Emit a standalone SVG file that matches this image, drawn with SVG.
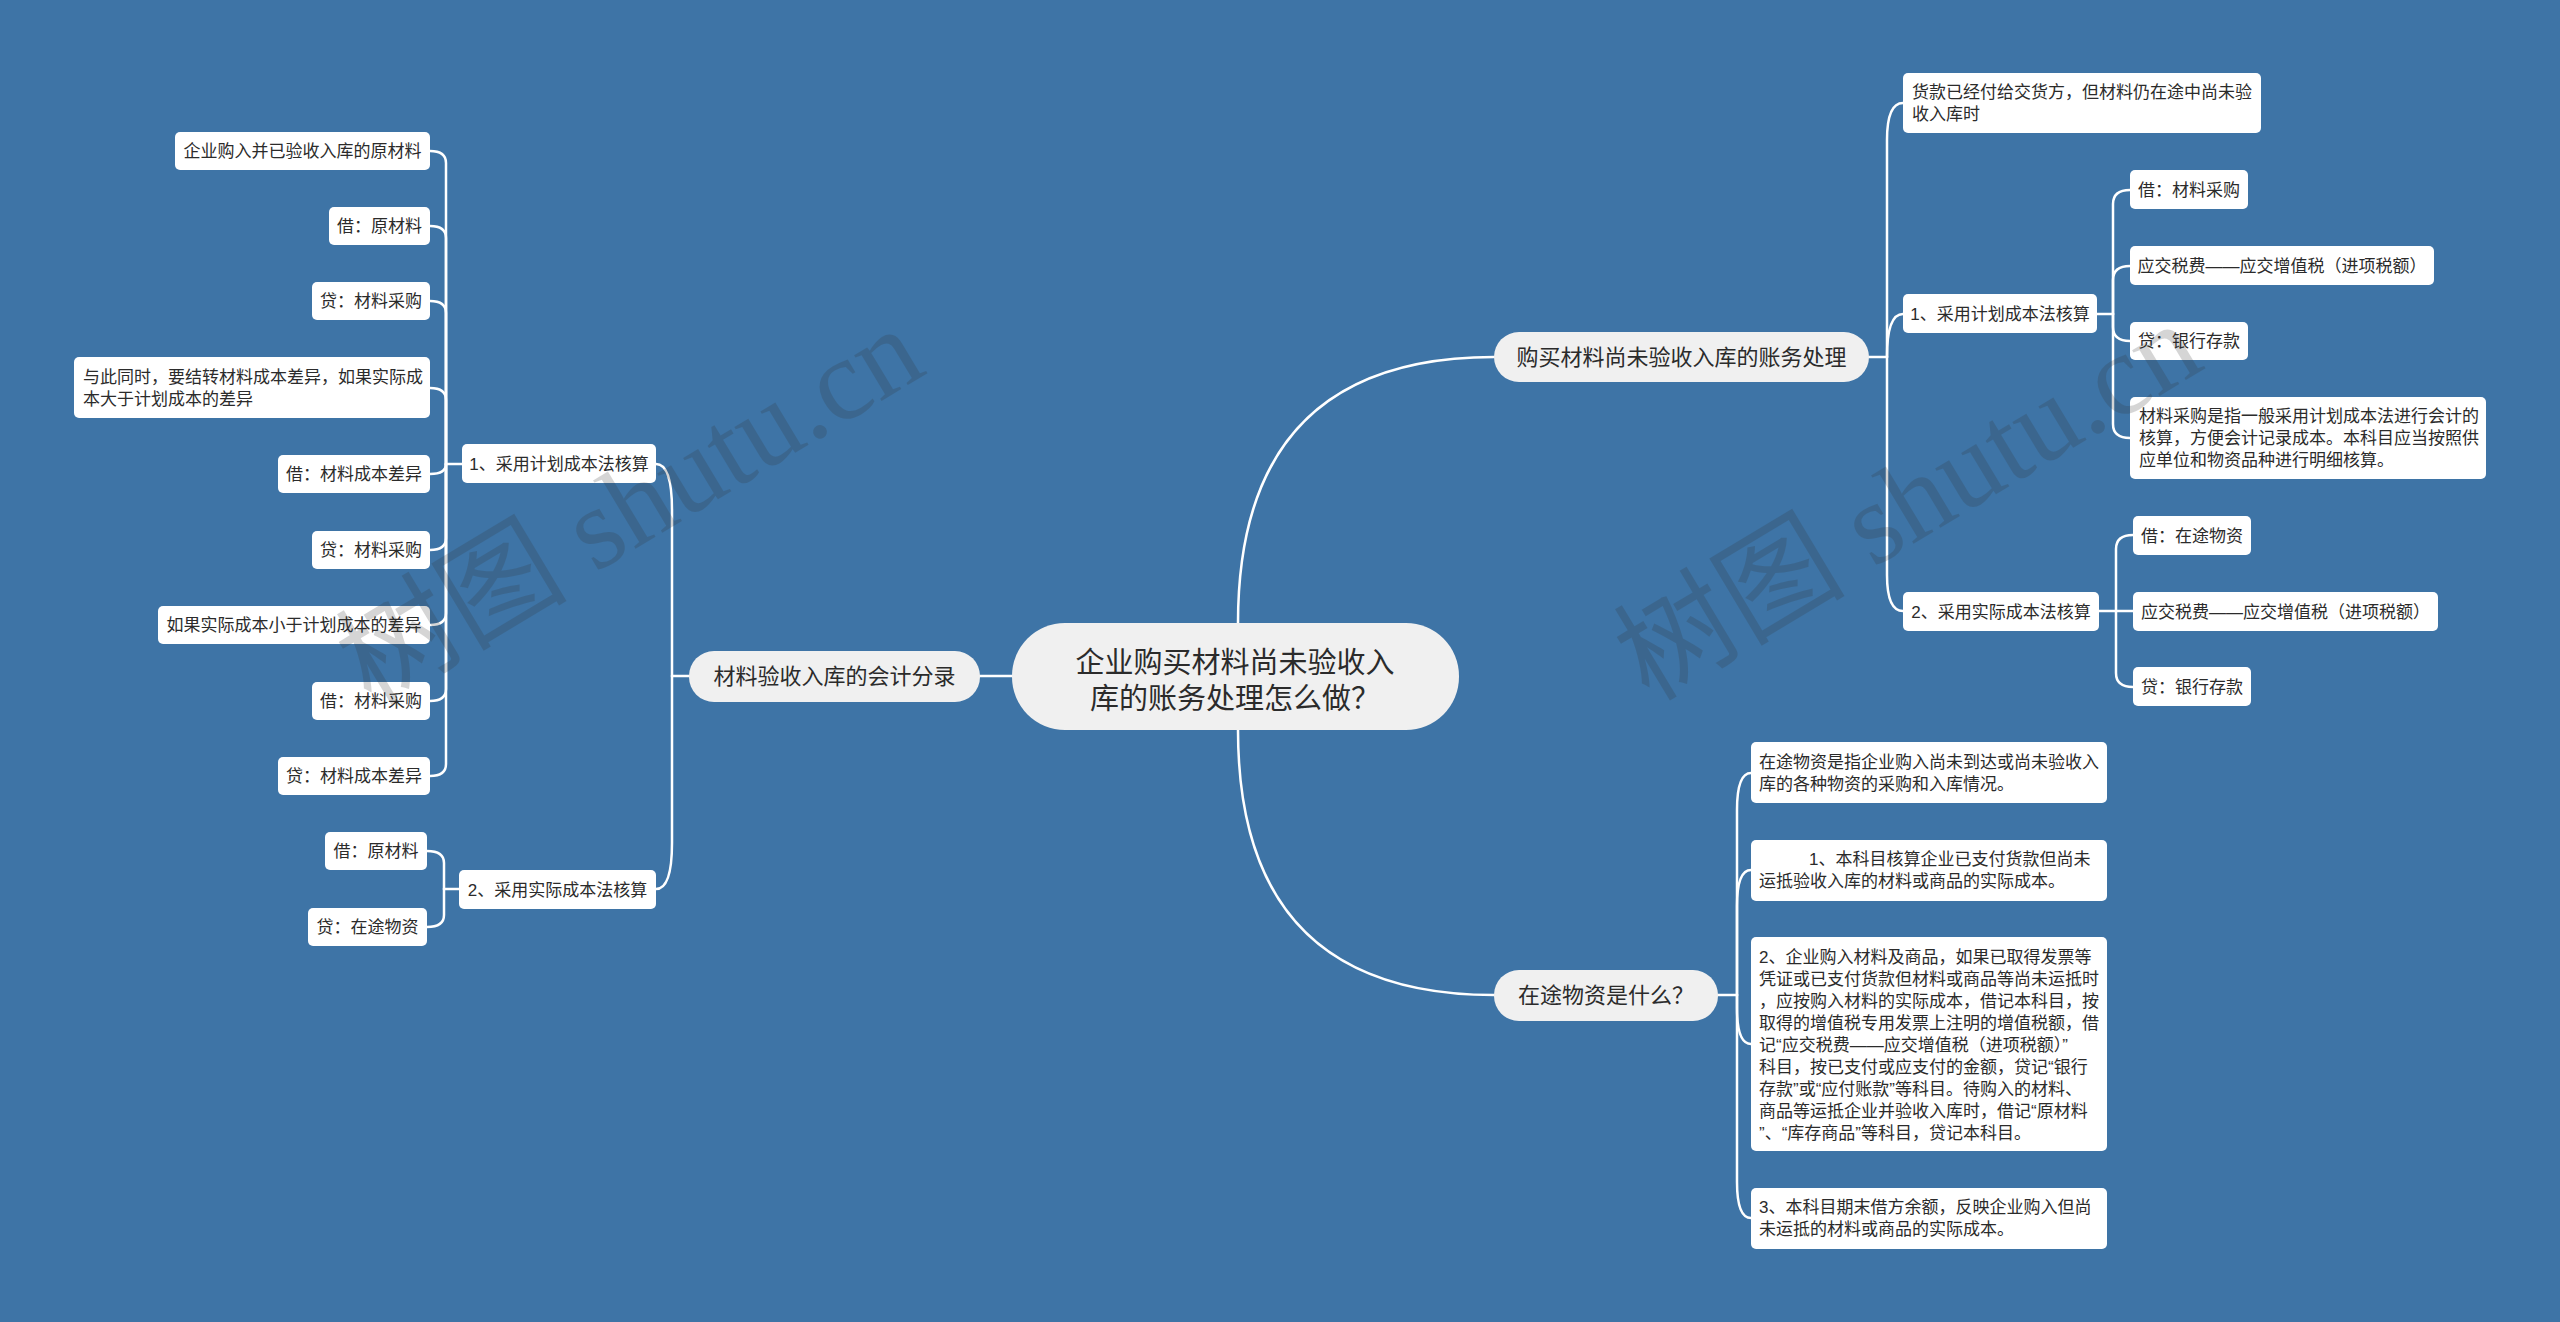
<svg xmlns="http://www.w3.org/2000/svg" width="2560" height="1322" viewBox="0 0 2560 1322">
<style>
.bg{fill:#3e74a6}
.leaf rect{fill:#ffffff}
.main rect{fill:#f0f0f0}
text{font-family:"Liberation Sans","Noto Sans CJK SC",sans-serif;fill:#2b2b2b}
.leaf text{font-size:17px}
.main text{font-size:22px}
.root text{font-size:29px}
.mid{text-anchor:middle}
#connectors path{fill:none;stroke:#ffffff;stroke-width:2.5;stroke-linecap:round}
.wm{font-family:"Liberation Serif","Noto Sans CJK SC",serif;font-size:116px;fill:#333333;opacity:0.2}
</style>
<rect class="bg" x="0" y="0" width="2560" height="1322"/>

<g id="connectors">
<path d="M1238,623 Q1238,357 1494,357"/>
<path d="M1238,730 Q1238,995 1494,995"/>
<path d="M1012,676 L980,676"/>
<path d="M1869,357 L1887,357"/>
<path d="M1887,357 L1887,140 Q1887,103 1903,103"/>
<path d="M1887,357 Q1887,314 1903,314"/>
<path d="M1887,357 L1887,575 Q1887,611 1903,611"/>
<path d="M1718,995 L1737,995"/>
<path d="M1737,995 L1737,810 Q1737,773 1751,773"/>
<path d="M1737,995 L1737,906 Q1737,870 1751,870"/>
<path d="M1737,995 L1737,1008 Q1737,1044 1751,1044"/>
<path d="M1737,995 L1737,1182 Q1737,1218 1751,1218"/>
<path d="M689,676 L672,676"/>
<path d="M672,676 L672,510 Q672,464 656,464"/>
<path d="M672,676 L672,843 Q672,889 656,889"/>
<path d="M462,464 L446,464"/>
<path d="M446,464 L446,163 Q446,151 430,151"/>
<path d="M446,464 L446,238 Q446,226 430,226"/>
<path d="M446,464 L446,313 Q446,301 430,301"/>
<path d="M446,464 L446,400 Q446,388 430,388"/>
<path d="M446,464 Q446,474 430,474"/>
<path d="M446,464 L446,538 Q446,550 430,550"/>
<path d="M446,464 L446,613 Q446,625 430,625"/>
<path d="M446,464 L446,689 Q446,701 430,701"/>
<path d="M446,464 L446,764 Q446,776 430,776"/>
<path d="M459,889 L444,889"/>
<path d="M444,889 L444,863 Q444,851 427,851"/>
<path d="M444,889 L444,915 Q444,927 427,927"/>
<path d="M2097,314 L2113,314"/>
<path d="M2113,314 L2113,204 Q2113,190 2130,190"/>
<path d="M2113,314 L2113,280 Q2113,266 2130,266"/>
<path d="M2113,314 L2113,327 Q2113,341 2130,341"/>
<path d="M2113,314 L2113,424 Q2113,438 2130,438"/>
<path d="M2098,611 L2133,611"/>
<path d="M2116,611 L2116,549 Q2116,535 2133,535"/>
<path d="M2116,611 L2116,673 Q2116,687 2133,687"/>
</g>

<g id="root" class="main root">
<rect x="1012" y="623" width="447" height="107" rx="53"/>
<text class="mid" x="1235" y="673">企业购买材料尚未验收入</text>
<text class="mid" x="1235" y="709">库的账务处理怎么做？</text>
</g>

<g id="m-left" class="main">
<rect x="689" y="651" width="291" height="51" rx="25"/>
<text class="mid" x="834.5" y="684">材料验收入库的会计分录</text>
</g>
<g id="m-right1" class="main">
<rect x="1494" y="332" width="375" height="50" rx="25"/>
<text class="mid" x="1681.5" y="365">购买材料尚未验收入库的账务处理</text>
</g>
<g id="m-right2" class="main">
<rect x="1494" y="970" width="224" height="51" rx="25"/>
<text class="mid" x="1606" y="1003">在途物资是什么？</text>
</g>

<g id="l1" class="leaf">
<rect x="462" y="444" width="194" height="39" rx="5"/>
<text class="mid" x="559" y="470">1、采用计划成本法核算</text>
</g>
<g id="l1a" class="leaf">
<rect x="175" y="132" width="255" height="38" rx="5"/>
<text class="mid" x="302.5" y="157">企业购入并已验收入库的原材料</text>
</g>
<g id="l1b" class="leaf">
<rect x="329" y="207" width="101" height="38" rx="5"/>
<text class="mid" x="379.5" y="232">借：原材料</text>
</g>
<g id="l1c" class="leaf">
<rect x="312" y="282" width="118" height="38" rx="5"/>
<text class="mid" x="371" y="307">贷：材料采购</text>
</g>
<g id="l1d" class="leaf">
<rect x="74" y="357" width="356" height="61" rx="5"/>
<text x="83" y="383">与此同时，要结转材料成本差异，如果实际成</text>
<text x="83" y="405">本大于计划成本的差异</text>
</g>
<g id="l1e" class="leaf">
<rect x="278" y="455" width="152" height="38" rx="5"/>
<text class="mid" x="354" y="480">借：材料成本差异</text>
</g>
<g id="l1f" class="leaf">
<rect x="312" y="531" width="118" height="38" rx="5"/>
<text class="mid" x="371" y="556">贷：材料采购</text>
</g>
<g id="l1g" class="leaf">
<rect x="158" y="606" width="272" height="38" rx="5"/>
<text class="mid" x="294" y="631">如果实际成本小于计划成本的差异</text>
</g>
<g id="l1h" class="leaf">
<rect x="312" y="682" width="118" height="38" rx="5"/>
<text class="mid" x="371" y="707">借：材料采购</text>
</g>
<g id="l1i" class="leaf">
<rect x="278" y="757" width="152" height="38" rx="5"/>
<text class="mid" x="354" y="782">贷：材料成本差异</text>
</g>

<g id="l2" class="leaf">
<rect x="459" y="870" width="197" height="39" rx="5"/>
<text class="mid" x="557.5" y="896">2、采用实际成本法核算</text>
</g>
<g id="l2a" class="leaf">
<rect x="325" y="832" width="102" height="38" rx="5"/>
<text class="mid" x="376" y="857">借：原材料</text>
</g>
<g id="l2b" class="leaf">
<rect x="308" y="908" width="119" height="38" rx="5"/>
<text class="mid" x="367.5" y="933">贷：在途物资</text>
</g>

<g id="r1a" class="leaf">
<rect x="1903" y="73" width="358" height="60" rx="5"/>
<text x="1912" y="98">货款已经付给交货方，但材料仍在途中尚未验</text>
<text x="1912" y="120">收入库时</text>
</g>
<g id="r1b" class="leaf">
<rect x="1903" y="294" width="194" height="39" rx="5"/>
<text class="mid" x="2000" y="320">1、采用计划成本法核算</text>
</g>
<g id="r1b1" class="leaf">
<rect x="2130" y="170" width="118" height="39" rx="5"/>
<text class="mid" x="2189" y="196">借：材料采购</text>
</g>
<g id="r1b2" class="leaf">
<rect x="2130" y="246" width="304" height="39" rx="5"/>
<text class="mid" x="2282" y="272">应交税费——应交增值税（进项税额）</text>
</g>
<g id="r1b3" class="leaf">
<rect x="2130" y="322" width="118" height="38" rx="5"/>
<text class="mid" x="2189" y="347">贷：银行存款</text>
</g>
<g id="r1b4" class="leaf">
<rect x="2130" y="397" width="356" height="82" rx="5"/>
<text x="2139" y="422">材料采购是指一般采用计划成本法进行会计的</text>
<text x="2139" y="444">核算，方便会计记录成本。本科目应当按照供</text>
<text x="2139" y="466">应单位和物资品种进行明细核算。</text>
</g>
<g id="r1c" class="leaf">
<rect x="1903" y="592" width="196" height="39" rx="5"/>
<text class="mid" x="2001" y="618">2、采用实际成本法核算</text>
</g>
<g id="r1c1" class="leaf">
<rect x="2133" y="516" width="118" height="39" rx="5"/>
<text class="mid" x="2192" y="542">借：在途物资</text>
</g>
<g id="r1c2" class="leaf">
<rect x="2133" y="592" width="305" height="39" rx="5"/>
<text class="mid" x="2285.5" y="618">应交税费——应交增值税（进项税额）</text>
</g>
<g id="r1c3" class="leaf">
<rect x="2133" y="667" width="118" height="39" rx="5"/>
<text class="mid" x="2192" y="693">贷：银行存款</text>
</g>

<g id="r2a" class="leaf">
<rect x="1751" y="742" width="356" height="61" rx="5"/>
<text x="1759" y="768">在途物资是指企业购入尚未到达或尚未验收入</text>
<text x="1759" y="790">库的各种物资的采购和入库情况。</text>
</g>
<g id="r2b" class="leaf">
<rect x="1751" y="840" width="356" height="61" rx="5"/>
<text x="1809" y="865">1、本科目核算企业已支付货款但尚未</text>
<text x="1759" y="887">运抵验收入库的材料或商品的实际成本。</text>
</g>
<g id="r2c" class="leaf">
<rect x="1751" y="937" width="356" height="214" rx="5"/>
<text x="1759" y="963">2、企业购入材料及商品，如果已取得发票等</text>
<text x="1759" y="985">凭证或已支付货款但材料或商品等尚未运抵时</text>
<text x="1759" y="1007">，应按购入材料的实际成本，借记本科目，按</text>
<text x="1759" y="1029">取得的增值税专用发票上注明的增值税额，借</text>
<text x="1759" y="1051">记“应交税费——应交增值税（进项税额）”</text>
<text x="1759" y="1073">科目，按已支付或应支付的金额，贷记“银行</text>
<text x="1759" y="1095">存款”或“应付账款”等科目。待购入的材料、</text>
<text x="1759" y="1117">商品等运抵企业并验收入库时，借记“原材料</text>
<text x="1759" y="1139">”、“库存商品”等科目，贷记本科目。</text>
</g>
<g id="r2d" class="leaf">
<rect x="1751" y="1188" width="356" height="61" rx="5"/>
<text x="1759" y="1213">3、本科目期末借方余额，反映企业购入但尚</text>
<text x="1759" y="1235">未运抵的材料或商品的实际成本。</text>
</g>

<g id="watermark">
<text class="wm" text-anchor="middle" transform="translate(650,540) rotate(-31)">树图 shutu.cn</text>
<text class="wm" text-anchor="middle" transform="translate(1928,535) rotate(-31)">树图 shutu.cn</text>
</g>
</svg>
